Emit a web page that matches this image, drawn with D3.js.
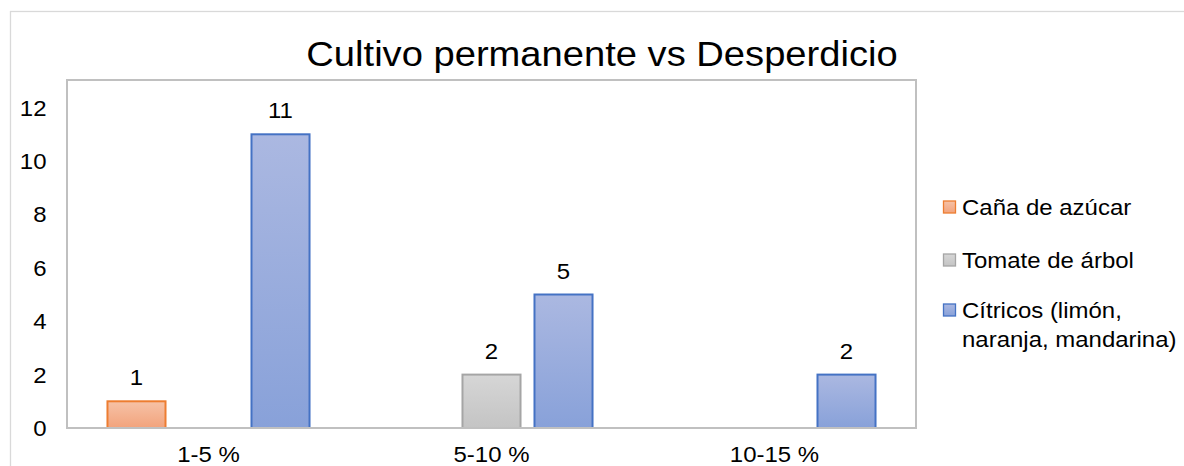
<!DOCTYPE html>
<html>
<head>
<meta charset="utf-8">
<script src="https://cdn.jsdelivr.net/npm/d3@7"></script>
<style>
  body { margin: 0; background: #fff; }
  text { font-family: "Liberation Sans", Arial, sans-serif; fill: #000; }
</style>
</head>
<body>
<div id="chart"></div>
<script>
var categories = ['1-5 %', '5-10 %', '10-15 %'];
var series = ['Caña de azúcar', 'Tomate de árbol', 'Cítricos (limón, naranja, mandarina)'];
var legendLines = [['Caña de azúcar'], ['Tomate de árbol'], ['Cítricos (limón,', 'naranja, mandarina)']];
var cana = [1, null, null];
var tomate = [null, 2, null];
var citricos = [11, 5, 2];
var yTicks = [0, 2, 4, 6, 8, 10, 12];

var values = [cana, tomate, citricos];
var fills = [['#f6c2a7', '#f2a37c'], ['#d6d6d6', '#c4c4c4'], ['#abb8e1', '#88a1d9']];
var strokes = ['#ed7d31', '#a5a5a5', '#4472c4'];

var W = 1184, H = 466;
var plot = { left: 67, right: 916, top: 80, bottom: 428 };
var sx = 1.09; // text in the source is a little wide

var svg = d3.select('#chart').append('svg')
    .attr('width', W)
    .attr('height', H);

var defs = svg.append('defs');
fills.forEach(function(f, i) {
    var g = defs.append('linearGradient')
        .attr('id', 'grad' + i)
        .attr('x1', 0).attr('y1', 0).attr('x2', 0).attr('y2', 1);
    g.append('stop').attr('offset', '0%').attr('stop-color', f[0]);
    g.append('stop').attr('offset', '100%').attr('stop-color', f[1]);
});

function put(sel, x, y) {
    return sel.attr('transform', 'translate(' + x + ',' + y + ') scale(' + sx + ',1)');
}

// chart area border
svg.append('rect')
    .attr('x', 10.5).attr('y', 11.5)
    .attr('width', W + 20).attr('height', H + 20)
    .attr('fill', 'none')
    .attr('stroke', '#d9d9d9')
    .attr('stroke-width', 1.3);

var x0 = d3.scaleBand()
    .domain(categories)
    .range([plot.left, plot.right]);

var x1 = d3.scaleBand()
    .domain(d3.range(series.length))
    .range([0, x0.bandwidth()])
    .paddingInner(0.194)
    .paddingOuter(0.562);

var y = d3.scaleLinear()
    .domain([0, 12])
    .range([plot.bottom, plot.bottom - 12 * 26.7]);

// plot area
svg.append('rect')
    .attr('x', plot.left).attr('y', plot.top)
    .attr('width', plot.right - plot.left)
    .attr('height', plot.bottom - plot.top)
    .attr('fill', '#fff')
    .attr('stroke', '#c0c0c0')
    .attr('stroke-width', 2);

// title
put(svg.append('text'), 602, 66)
    .attr('text-anchor', 'middle')
    .style('font-size', '35px')
    .text('Cultivo permanente vs Desperdicio');

// y tick labels
svg.append('g').selectAll('text')
    .data(yTicks)
    .join('text')
    .each(function(d) { put(d3.select(this), 46.5, y(d) + 8); })
    .attr('text-anchor', 'end')
    .style('font-size', '22px')
    .text(d => d);

// bars
var groups = svg.append('g').selectAll('g')
    .data(values)
    .join('g');

groups.selectAll('rect')
    .data((vals, si) => vals.map((v, ci) => ({ v: v, si: si, ci: ci })).filter(d => d.v != null))
    .join('rect')
    .attr('x', d => x0(categories[d.ci]) + x1(d.si))
    .attr('y', d => y(d.v))
    .attr('width', x1.bandwidth())
    .attr('height', d => y(0) - y(d.v))
    .attr('fill', d => 'url(#grad' + d.si + ')')
    .attr('stroke', d => strokes[d.si])
    .attr('stroke-width', 2);

groups.selectAll('text')
    .data((vals, si) => vals.map((v, ci) => ({ v: v, si: si, ci: ci })).filter(d => d.v != null))
    .join('text')
    .each(function(d) {
        put(d3.select(this), x0(categories[d.ci]) + x1(d.si) + x1.bandwidth() / 2, y(d.v) - 16);
    })
    .attr('text-anchor', 'middle')
    .style('font-size', '22px')
    .text(d => d.v);

// x axis line
svg.append('line')
    .attr('x1', plot.left).attr('x2', plot.right)
    .attr('y1', plot.bottom).attr('y2', plot.bottom)
    .attr('stroke', '#c0c0c0')
    .attr('stroke-width', 2);

// category labels
svg.append('g').selectAll('text')
    .data(categories)
    .join('text')
    .each(function(d) { put(d3.select(this), x0(d) + x0.bandwidth() / 2, 462); })
    .attr('text-anchor', 'middle')
    .style('font-size', '22px')
    .text(d => d);

// legend
var legendY = [213, 266, 316];
var legend = svg.append('g').selectAll('g')
    .data(series)
    .join('g');

legend.append('rect')
    .attr('x', 943.5)
    .attr('y', (d, i) => legendY[i] - 12)
    .attr('width', 12).attr('height', 12)
    .attr('fill', (d, i) => 'url(#grad' + i + ')')
    .attr('stroke', (d, i) => strokes[i])
    .attr('stroke-width', 1.3);

legend.each(function(d, i) {
    var g = d3.select(this);
    legendLines[i].forEach(function(line, j) {
        put(g.append('text'), 962, legendY[i] + 1.5 + j * 29.5)
            .style('font-size', '22px')
            .text(line);
    });
});
</script>
</body>
</html>
